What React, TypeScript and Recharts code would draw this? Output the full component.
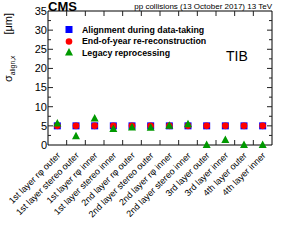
import {
  ComposedChart,
  Scatter,
  XAxis,
  YAxis,
  ReferenceLine,
  ReferenceArea,
  Legend,
} from "recharts";

const FONT = "'Liberation Sans', Arial, Helvetica, sans-serif";

// categories (TIB layers)
const LAYERS = [
  "1st layer rφ outer",
  "1st layer stereo outer",
  "1st layer rφ inner",
  "1st layer stereo inner",
  "2nd layer rφ outer",
  "2nd layer stereo outer",
  "2nd layer rφ inner",
  "2nd layer stereo inner",
  "3rd layer outer",
  "3rd layer inner",
  "4th layer outer",
  "4th layer inner",
];

// sigma_align,x in um
const ONLINE = [5, 5, 5, 5, 5, 5, 5, 5, 5, 5, 5, 5];
const EOY = [5, 5, 5, 5, 5, 5, 5, 5, 5, 5, 5, 5];
const LEGACY = [5.6, 2.3, 6.9, 4.2, 4.6, 4.5, 5.0, 5.4, 0, 1.3, 0, 0];

const Y_MAJOR = [0, 5, 10, 15, 20, 25, 30, 35];
const Y_MINOR = [2.5, 7.5, 12.5, 17.5, 22.5, 27.5, 32.5];
const X_BOUNDS = [0.5, 1.5, 2.5, 3.5, 4.5, 5.5, 6.5, 7.5, 8.5, 9.5, 10.5];

const BLUE = "#0000ff";
const RED = "#ff0000";
const GREEN = "#009900";

const data = LAYERS.map((name, i) => ({
  idx: i,
  name,
  online: ONLINE[i],
  eoy: EOY[i],
  legacy: LEGACY[i],
}));

const Square = ({ cx, cy, fill }: any) => (
  <rect x={cx - 3.5} y={cy - 3.5} width={7} height={7} fill={fill} />
);
const Dot = ({ cx, cy, fill }: any) => <circle cx={cx} cy={cy} r={3.3} fill={fill} />;
const Tri = ({ cx, cy, fill }: any) => (
  <polygon points={`${cx},${cy - 4.5} ${cx - 4},${cy + 3} ${cx + 4},${cy + 3}`} fill={fill} />
);

const SERIES = [
  { key: "online", label: "Alignment during data-taking", color: BLUE, Shape: Square },
  { key: "eoy", label: "End-of-year re-reconstruction", color: RED, Shape: Dot },
  { key: "legacy", label: "Legacy reprocessing", color: GREEN, Shape: Tri },
];

const XTick = ({ x, y, payload }: any) => {
  const ax = x + 3.5;
  const ay = y + 11;
  return (
    <text
      x={ax}
      y={ay}
      transform={`rotate(-45, ${ax}, ${ay})`}
      textAnchor="end"
      fontSize={9}
      fontFamily={FONT}
      fill="#000"
    >
      {LAYERS[payload.value]}
    </text>
  );
};

const yTickShape = (len: number) => (p: any) => {
  const xl = Math.min(p.x1, p.x2);
  const xr = Math.max(p.x1, p.x2);
  return (
    <g stroke="#222" strokeWidth={1}>
      <line x1={xl} x2={xl + len} y1={p.y1} y2={p.y1} />
      <line x1={xr - len} x2={xr} y1={p.y1} y2={p.y1} />
    </g>
  );
};

const xTickShape = (p: any) => {
  const yt = Math.min(p.y1, p.y2);
  const yb = Math.max(p.y1, p.y2);
  return (
    <g stroke="#222" strokeWidth={1}>
      <line x1={p.x1} x2={p.x1} y1={yt} y2={yt + 5} />
      <line x1={p.x1} x2={p.x1} y1={yb - 5} y2={yb} />
    </g>
  );
};

const LegendBox = () => (
  <div style={{ fontFamily: FONT }}>
    {SERIES.map((s) => (
      <div key={s.key} style={{ display: "flex", alignItems: "center", height: 11.5 }}>
        <svg width={14} height={11} style={{ marginRight: 6 }}>
          <s.Shape cx={7} cy={5.5} fill={s.color} />
        </svg>
        <span style={{ fontSize: 8.8, fontWeight: "bold", color: "#000", whiteSpace: "nowrap" }}>
          {s.label}
        </span>
      </div>
    ))}
  </div>
);

const YLabel = () => (
  <text transform="rotate(-90)" x={-82} y={12} fontFamily={FONT} fontSize={11} fill="#000">
    σ
    <tspan fontSize={6.8} dy={3}>align,x</tspan>
    <tspan dy={-3} dx={21}>[μm]</tspan>
  </text>
);

export default function App() {
  return (
    <div style={{ position: "absolute", left: 0, top: 0, width: 303, height: 242, background: "#fff" }}>
      <ComposedChart
        width={303}
        height={242}
        data={data}
        margin={{ top: 11, right: 31, left: 0, bottom: 0 }}
      >
        <XAxis
          dataKey="idx"
          type="number"
          domain={[-0.5, 11.5]}
          ticks={LAYERS.map((_, i) => i)}
          interval={0}
          height={97}
          tickLine={false}
          axisLine={false}
          tickSize={0}
          tickMargin={0}
          tick={<XTick />}
        />
        <YAxis
          type="number"
          domain={[0, 35]}
          ticks={Y_MAJOR}
          interval={0}
          width={48}
          tickLine={false}
          axisLine={false}
          tickSize={0}
          tickMargin={1}
          tick={{ fontSize: 11, fill: "#000", fontFamily: FONT }}
          label={{ content: () => <YLabel /> }}
        />
        {Y_MAJOR.slice(1, -1).map((v) => (
          <ReferenceLine key={`ym${v}`} y={v} shape={yTickShape(5)} />
        ))}
        {Y_MINOR.map((v) => (
          <ReferenceLine key={`yn${v}`} y={v} shape={yTickShape(3)} />
        ))}
        {X_BOUNDS.map((v) => (
          <ReferenceLine key={`xb${v}`} x={v} shape={xTickShape} />
        ))}
        <ReferenceArea
          x1={-0.5}
          x2={11.5}
          y1={0}
          y2={35}
          fill="none"
          fillOpacity={0}
          stroke="#000"
          strokeWidth={1}
        />
        {SERIES.map((s) => (
          <Scatter
            key={s.key}
            dataKey={s.key}
            name={s.label}
            fill={s.color}
            shape={<s.Shape />}
            isAnimationActive={false}
          />
        ))}
        <Legend
          layout="vertical"
          align="center"
          verticalAlign="middle"
          content={<LegendBox />}
          wrapperStyle={{ left: 62, top: 24, width: 200, height: 40 }}
        />
      </ComposedChart>
      <svg
        width={303}
        height={242}
        style={{ position: "absolute", left: 0, top: 0, pointerEvents: "none" }}
      >
        <text x={48} y={11} fontFamily={FONT} fontSize={13} fontWeight="bold" fill="#000">
          CMS
        </text>
        <text x={272} y={9} fontFamily={FONT} fontSize={8} textAnchor="end" fill="#000">
          pp collisions (13 October 2017) 13 TeV
        </text>
        <text x={226} y={61} fontFamily={FONT} fontSize={14} fill="#000">
          TIB
        </text>
      </svg>
    </div>
  );
}
